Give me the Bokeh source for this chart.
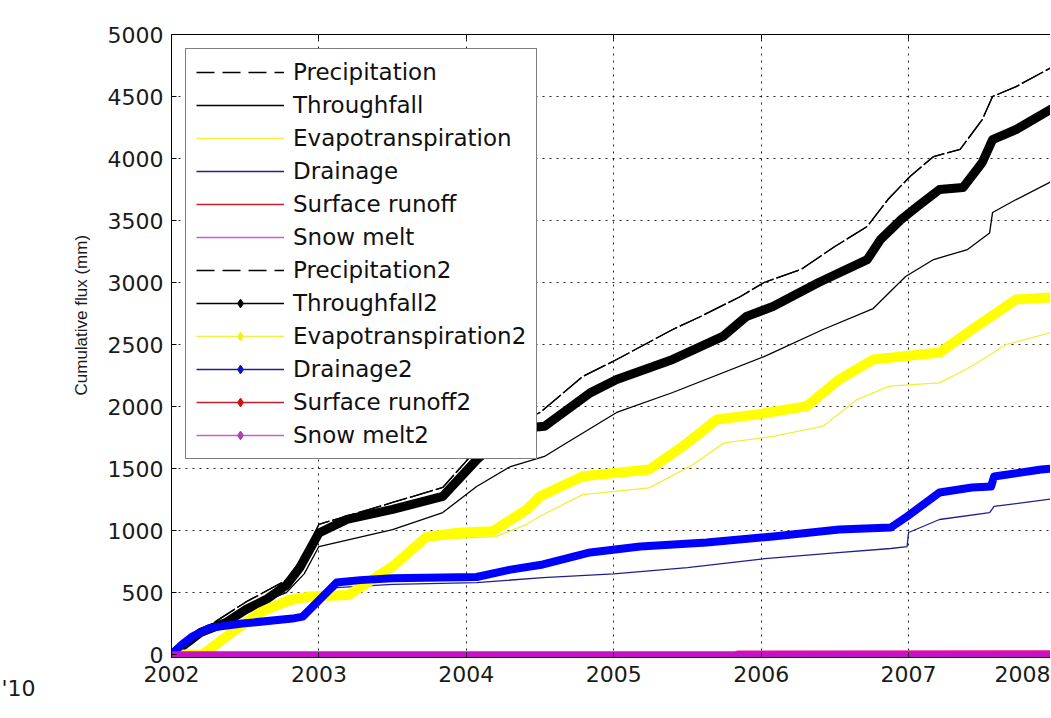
import math
from bokeh.plotting import figure
from bokeh.models import FixedTicker, LinearAxis, Legend, LegendItem, Range1d, Title
from bokeh.embed import file_html
from bokeh.resources import INLINE

# ---------------- data ----------------
YEAR_TICKS = [2002, 2003, 2004, 2005, 2006, 2007]
YEAR_LABELS = ["2002", "2003", "2004", "2005", "2006", "2007"]
EDGE_YEAR_LABEL = "2008"
FLUX_TICKS = [0, 500, 1000, 1500, 2000, 2500, 3000, 3500, 4000, 4500, 5000]

precip_x = [2002.00, 2002.20, 2002.50, 2002.78, 2002.90, 2003.00, 2003.20, 2003.50, 2003.84,
            2004.07, 2004.30, 2004.50, 2004.79, 2005.02, 2005.40, 2005.59, 2005.86, 2006.02,
            2006.27, 2006.50, 2006.72, 2006.86, 2007.01, 2007.17, 2007.35, 2007.50, 2007.57,
            2007.73, 2007.97]
precip_y = [0, 190, 420, 600, 800, 1050, 1120, 1226, 1347,
            1653, 1839, 1952, 2242, 2379, 2621, 2726, 2887, 3000,
            3105, 3290, 3452, 3669, 3855, 4016, 4073, 4314, 4500,
            4580, 4734]

thr_x = [2002.00, 2002.20, 2002.50, 2002.78, 2002.90, 2003.00, 2003.50, 2003.84, 2004.07,
         2004.30, 2004.53, 2004.64, 2005.02, 2005.40, 2006.02, 2006.42, 2006.76, 2006.98,
         2007.17, 2007.40, 2007.55, 2007.57, 2007.73, 2007.97]
thr_y = [0, 170, 370, 500, 650, 871, 1008, 1145, 1355,
         1516, 1597, 1677, 1952, 2113, 2403, 2621, 2790, 3048,
         3185, 3266, 3400, 3565, 3669, 3815]

et_x = [2002.00, 2002.21, 2002.60, 2002.94, 2003.20, 2003.50, 2003.73, 2004.00, 2004.20,
        2004.41, 2004.50, 2004.79, 2005.24, 2005.52, 2005.75, 2006.09, 2006.42, 2006.65,
        2006.87, 2007.21, 2007.43, 2007.66, 2007.96]
et_y = [0, 0, 320, 450, 470, 690, 920, 940, 950,
        1050, 1115, 1290, 1344, 1519, 1707, 1761, 1841, 2056,
        2164, 2191, 2325, 2500, 2594]

dr_x = [2002.00, 2002.14, 2002.26, 2002.48, 2002.82, 2002.90, 2003.12, 2003.50, 2004.07,
        2004.52, 2005.00, 2005.50, 2006.00, 2006.50, 2006.88, 2006.99, 2007.00, 2007.21,
        2007.55, 2007.58, 2007.97]
dr_y = [0, 140, 205, 235, 275, 300, 540, 565, 580,
        620, 650, 700, 770, 820, 855, 870, 984, 1089,
        1145, 1194, 1255]

zero_x = [2002.00, 2007.97]
runoff_y = [0, 0]
snow_y = [0, 0]

precip2_x = list(precip_x)
precip2_y = list(precip_y)

thr2_x = [2002.00, 2002.10, 2002.20, 2002.37, 2002.50, 2002.65, 2002.78, 2002.87, 2003.00,
          2003.19, 2003.50, 2003.84, 2004.07, 2004.30, 2004.53, 2004.84, 2005.02, 2005.40,
          2005.74, 2005.90, 2006.08, 2006.39, 2006.72, 2006.81, 2006.95, 2007.06, 2007.21,
          2007.37, 2007.50, 2007.57, 2007.73, 2007.97]
thr2_y = [0, 90, 180, 258, 360, 450, 560, 700, 980,
          1090, 1170, 1275, 1570, 1815, 1840, 2110, 2218, 2380,
          2565, 2726, 2806, 3000, 3185, 3347, 3508, 3613, 3750,
          3766, 3968, 4153, 4234, 4400]

et2_x = [2002.00, 2002.21, 2002.40, 2002.60, 2002.80, 2002.94, 2003.20, 2003.50, 2003.73,
         2003.96, 2004.18, 2004.41, 2004.50, 2004.79, 2005.24, 2005.47, 2005.70, 2005.97,
         2006.31, 2006.53, 2006.76, 2007.21, 2007.43, 2007.73, 2007.96]
et2_y = [0, 0, 170, 339, 440, 468, 480, 710, 950,
         984, 995, 1169, 1277, 1438, 1492, 1680, 1895, 1935,
         2003, 2218, 2379, 2435, 2621, 2863, 2879]

dr2_x = [2002.00, 2002.07, 2002.14, 2002.26, 2002.48, 2002.82, 2002.89, 2003.12, 2003.28,
         2003.50, 2004.07, 2004.30, 2004.52, 2004.84, 2005.18, 2005.63, 2006.08, 2006.53,
         2006.88, 2006.99, 2007.21, 2007.43, 2007.56, 2007.58, 2007.90, 2007.97]
dr2_y = [0, 80, 145, 215, 250, 290, 306, 580, 600,
         615, 625, 685, 726, 823, 871, 903, 952, 1008,
         1024, 1113, 1306, 1347, 1355, 1435, 1492, 1500]

runoff2_x = [2002.00, 2005.83, 2005.84, 2007.97]
runoff2_y = [0, 0, 8, 10]
snow2_y = [0, 0]

FONT = "DejaVu Sans"
X_START, X_END = 2002, 2007.963

p = figure(width=1050, height=702, output_backend="svg", toolbar_location=None,
           x_range=Range1d(X_START, X_END), y_range=Range1d(-24, 5000),
           min_border_left=171, min_border_right=0, min_border_top=34, min_border_bottom=45,
           background_fill_color="white", border_fill_color="white", outline_line_color=None)

bottom_axis = p.below[0]
left_axis = p.left[0]

top_axis = LinearAxis(ticker=FixedTicker(ticks=YEAR_TICKS),
                      major_label_text_font_size="1px", major_label_text_color=None,
                      major_label_standoff=0)
p.add_layout(top_axis, "above")

# bottom axis: year ticks, plus the partly visible label at the cropped right edge
bottom_axis.ticker = FixedTicker(ticks=YEAR_TICKS + [X_END])
overrides = {t: l for t, l in zip(YEAR_TICKS, YEAR_LABELS)}
overrides[X_END] = EDGE_YEAR_LABEL
bottom_axis.major_label_overrides = overrides
left_axis.ticker = FixedTicker(ticks=FLUX_TICKS)

for ax in [bottom_axis, left_axis, top_axis]:
    ax.axis_line_color = "black"
    ax.axis_line_width = 1
    ax.major_tick_in = 5
    ax.major_tick_out = 0
    ax.major_tick_line_color = "black"
    ax.minor_tick_line_color = None
for ax in [bottom_axis, left_axis]:
    ax.major_label_text_font = FONT
    ax.major_label_text_font_size = "22px"
    ax.major_label_text_color = "#1a1a1a"
bottom_axis.major_label_standoff = 8
left_axis.major_label_standoff = 8

# y-axis title (side title, starting a little above the bottom as in the original)
p.add_layout(Title(text="Cumulative flux (mm)", align="left", offset=262, standoff=27,
                   text_font="Liberation Sans", text_font_size="17px",
                   text_font_style="normal", text_color="#1a1a1a"), "left")
# stray cropped text at the bottom-left corner
p.add_layout(Title(text="'10", align="left", offset=-170, standoff=-32,
                   text_font=FONT, text_font_size="22px",
                   text_font_style="normal", text_color="#1a1a1a"), "below")

p.xgrid.ticker = FixedTicker(ticks=YEAR_TICKS)
p.ygrid.ticker = FixedTicker(ticks=FLUX_TICKS)
for g in [p.xgrid[0], p.ygrid[0]]:
    g.grid_line_color = "black"
    g.grid_line_dash = "2 5"
    g.grid_line_alpha = 0.85
    g.grid_line_width = 1

# ---- plotted series ----
p.line(precip_x, precip_y, line_color="black", line_width=1.3, line_dash="24 3")
p.line(thr_x, thr_y, line_color="black", line_width=1.3)
p.line(et_x, et_y, line_color="#efef3a", line_width=1.3)
p.line(dr_x, dr_y, line_color="#1f1f8f", line_width=1.3)
p.line(zero_x, runoff_y, line_color="red", line_width=1.3)
p.line(zero_x, snow_y, line_color="magenta", line_width=1.3)
p.line(precip2_x, precip2_y, line_color="black", line_width=1.3, line_dash="24 3")
p.line(thr2_x, thr2_y, line_color="black", line_width=9, line_join="round", line_cap="round")
p.line(et2_x, et2_y, line_color="#ffff00", line_width=10, line_join="round", line_cap="round")
p.line(dr2_x, dr2_y, line_color="#0000ff", line_width=8, line_join="round", line_cap="round")
p.line(runoff2_x, runoff2_y, line_color="#f0108a", line_width=6)
p.line(zero_x, snow2_y, line_color="#c810c8", line_width=6)

# ---- legend-only glyphs ----
nan = [float("nan")]
def lg_line(color, dash="solid"):
    return p.line(nan, nan, line_color=color, line_width=1.3, line_dash=dash)
def lg_mark(color):
    return p.scatter(nan, nan, marker="diamond", size=9, fill_color=color, line_color=color)

items = [
    LegendItem(label="Precipitation", renderers=[lg_line("black", "18 8")]),
    LegendItem(label="Throughfall", renderers=[lg_line("black")]),
    LegendItem(label="Evapotranspiration", renderers=[lg_line("#f0f040")]),
    LegendItem(label="Drainage", renderers=[lg_line("#20208a")]),
    LegendItem(label="Surface runoff", renderers=[lg_line("#c02030")]),
    LegendItem(label="Snow melt", renderers=[lg_line("#c860c8")]),
    LegendItem(label="Precipitation2", renderers=[lg_line("black", "18 8")]),
    LegendItem(label="Throughfall2", renderers=[lg_line("black"), lg_mark("black")]),
    LegendItem(label="Evapotranspiration2", renderers=[lg_line("#f0f040"), lg_mark("#f0f020")]),
    LegendItem(label="Drainage2", renderers=[lg_line("#20208a"), lg_mark("#1010c0")]),
    LegendItem(label="Surface runoff2", renderers=[lg_line("#c02030"), lg_mark("#d01010")]),
    LegendItem(label="Snow melt2", renderers=[lg_line("#c860c8"), lg_mark("#b040b0")]),
]
legend = Legend(items=items, location="top_left", margin=14, padding=10, spacing=7,
                glyph_width=88, glyph_height=22, label_height=22, label_standoff=9,
                label_text_font=FONT, label_text_font_size="23px", label_text_color="#111111",
                border_line_color="black", border_line_width=1, background_fill_color="white",
                background_fill_alpha=1.0)
p.add_layout(legend)

open("out.html", "w").write(file_html(p, INLINE))
